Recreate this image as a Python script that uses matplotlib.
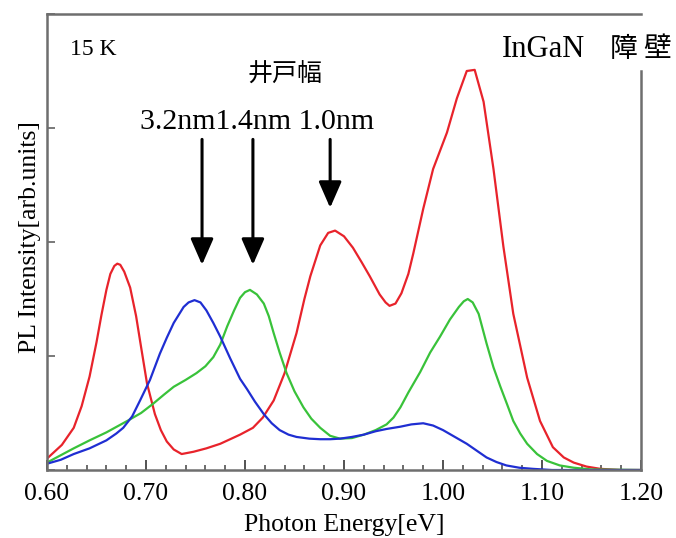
import matplotlib
matplotlib.use("Agg")
import matplotlib.pyplot as plt
from matplotlib.ticker import MultipleLocator

# PL spectra at 15 K (photon energy eV, intensity arb.)
red_e = [0.600, 0.615, 0.627, 0.635, 0.643, 0.650, 0.655, 0.660, 0.664, 0.668,
         0.671, 0.674, 0.678, 0.684, 0.690, 0.695, 0.701, 0.709, 0.715, 0.721,
         0.728, 0.736, 0.748, 0.761, 0.775, 0.785, 0.795, 0.808, 0.818, 0.829,
         0.840, 0.852, 0.860, 0.866, 0.876, 0.884, 0.891, 0.900, 0.909, 0.918,
         0.926, 0.936, 0.942, 0.946, 0.952, 0.958, 0.965, 0.970, 0.980, 0.990,
         1.004, 1.014, 1.024, 1.032, 1.041, 1.051, 1.061, 1.071, 1.085, 1.098,
         1.111, 1.122, 1.132, 1.145, 1.159, 1.180, 1.200]
red_i = [0.10, 0.22, 0.37, 0.56, 0.82, 1.12, 1.36, 1.58, 1.72, 1.79,
         1.81, 1.80, 1.74, 1.60, 1.35, 1.08, 0.76, 0.49, 0.35, 0.25,
         0.18, 0.14, 0.16, 0.19, 0.23, 0.27, 0.31, 0.37, 0.46, 0.61,
         0.85, 1.20, 1.50, 1.70, 1.97, 2.08, 2.10, 2.05, 1.95, 1.82,
         1.70, 1.54, 1.47, 1.44, 1.46, 1.55, 1.72, 1.90, 2.29, 2.64,
         2.96, 3.26, 3.50, 3.51, 3.23, 2.64, 1.96, 1.37, 0.81, 0.43,
         0.20, 0.11, 0.065, 0.03, 0.01, 0.0, 0.0]

green_e = [0.600, 0.614, 0.627, 0.643, 0.660, 0.681, 0.695, 0.707, 0.718, 0.728,
           0.740, 0.751, 0.760, 0.768, 0.775, 0.782, 0.789, 0.795, 0.800, 0.805,
           0.812, 0.819, 0.824, 0.829, 0.835, 0.842, 0.850, 0.859, 0.867, 0.876,
           0.886, 0.896, 0.908, 0.920, 0.932, 0.943, 0.950, 0.957, 0.965, 0.977,
           0.987, 0.997, 1.007, 1.016, 1.021, 1.025, 1.030, 1.036, 1.044, 1.051,
           1.058, 1.065, 1.071, 1.078, 1.085, 1.095, 1.105, 1.118, 1.132, 1.150,
           1.200]
green_i = [0.065, 0.13, 0.19, 0.26, 0.33, 0.43, 0.50, 0.58, 0.66, 0.73,
           0.79, 0.85, 0.91, 0.99, 1.10, 1.26, 1.40, 1.51, 1.56, 1.58,
           1.54, 1.46, 1.35, 1.20, 1.03, 0.85, 0.69, 0.55, 0.45, 0.37,
           0.30, 0.275, 0.28, 0.31, 0.35, 0.40, 0.46, 0.55, 0.68, 0.86,
           1.03, 1.17, 1.32, 1.43, 1.48, 1.50, 1.47, 1.37, 1.11, 0.90,
           0.73, 0.57, 0.43, 0.32, 0.23, 0.14, 0.08, 0.04, 0.02, 0.005,
           0.0]

blue_e = [0.600, 0.614, 0.627, 0.643, 0.660, 0.670, 0.677, 0.686, 0.694, 0.704,
          0.714, 0.721, 0.728, 0.738, 0.743, 0.749, 0.755, 0.761, 0.768, 0.775,
          0.785, 0.795, 0.802, 0.810, 0.819, 0.827, 0.835, 0.844, 0.852, 0.865,
          0.876, 0.886, 0.896, 0.908, 0.920, 0.932, 0.943, 0.957, 0.968, 0.980,
          0.990, 1.000, 1.012, 1.024, 1.034, 1.044, 1.054, 1.064, 1.077, 1.091,
          1.110, 1.200]
blue_i = [0.055, 0.09, 0.14, 0.19, 0.26, 0.32, 0.37, 0.47, 0.61, 0.79,
          1.02, 1.16, 1.29, 1.43, 1.47, 1.49, 1.47, 1.40, 1.29, 1.17,
          0.98, 0.80, 0.71, 0.60, 0.49, 0.41, 0.35, 0.31, 0.29, 0.275,
          0.27, 0.27, 0.275, 0.29, 0.31, 0.34, 0.36, 0.38, 0.40, 0.41,
          0.39, 0.35, 0.29, 0.23, 0.17, 0.11, 0.07, 0.04, 0.02, 0.01,
          0.0, 0.0]

# well-width arrows: (x, tail y, head y)
arrow_x = [0.7566, 0.808, 0.886]
arrow_top = [2.90, 2.90, 2.90]
arrow_tip = [1.80, 1.80, 2.30]

SERIF = ["Liberation Serif", "DejaVu Serif"]
CJK = ["Noto Sans CJK JP", "DejaVu Sans"]

fig = plt.figure(figsize=(6.76, 5.38), dpi=100)
ax = fig.add_axes([47 / 676, 68 / 538, 594 / 676, 456 / 538])

line_kw = dict(lw=1.6, solid_joinstyle="round")
ax.plot(red_e, red_i, color="#e8232b", **line_kw)
ax.plot(green_e, green_i, color="#39c23a", **line_kw)
ax.plot(blue_e, blue_i, color="#1f2ed2", **line_kw)

for x, y0, y1 in zip(arrow_x, arrow_top, arrow_tip):
    ax.annotate("", xy=(x, y1), xytext=(x, y0),
                arrowprops=dict(arrowstyle="-|>,head_width=0.35,head_length=0.8",
                                color="black", lw=2.2, mutation_scale=20,
                                shrinkA=0, shrinkB=0))

ax.set_xlim(0.60, 1.20)
ax.set_ylim(0, 4.0)
ax.xaxis.set_major_locator(MultipleLocator(0.10))
ax.xaxis.set_minor_locator(MultipleLocator(0.02))
ax.yaxis.set_major_locator(MultipleLocator(1.0))
ax.set_xticklabels([f"{v:.2f}" for v in ax.get_xticks()], family=SERIF, fontsize=18.5)
ax.set_yticklabels([])

ax.tick_params(axis="x", which="major", direction="in", length=7, width=1.3,
               color="#444444", pad=9)
ax.tick_params(axis="x", which="minor", direction="in", length=3.5, width=1.1,
               color="#444444")
ax.tick_params(axis="y", which="major", direction="in", length=6, width=1.1,
               color="#555555")
for s in ax.spines.values():
    s.set_color("#6e6e6e")
    s.set_linewidth(1.8)
ax.spines["right"].set_bounds(0, 3.5)

ax.set_xlabel("Photon Energy[eV]", family=SERIF, fontsize=18.5, labelpad=7)
ax.set_ylabel("PL Intensity[arb.units]", family=SERIF, fontsize=18.5)
ax.yaxis.set_label_coords(-0.010, 0.51)

ax.text(0.6235, 3.64, "15 K", family=SERIF, fontsize=17, va="baseline")
ax.text(0.8404, 3.47, "井戸幅", family=CJK, fontsize=18, ha="center", va="center")
ax.text(0.6939, 2.99, "3.2nm1.4nm 1.0nm", family=SERIF, fontsize=21.5, va="baseline")
ax.text(1.0596, 3.62, "InGaN", family=SERIF, fontsize=22, va="baseline",
        clip_on=False)
ax.text(1.1687, 3.62, "障 壁", family=CJK, fontsize=20, va="baseline",
        clip_on=False)

fig.savefig("out.png", dpi=100)
